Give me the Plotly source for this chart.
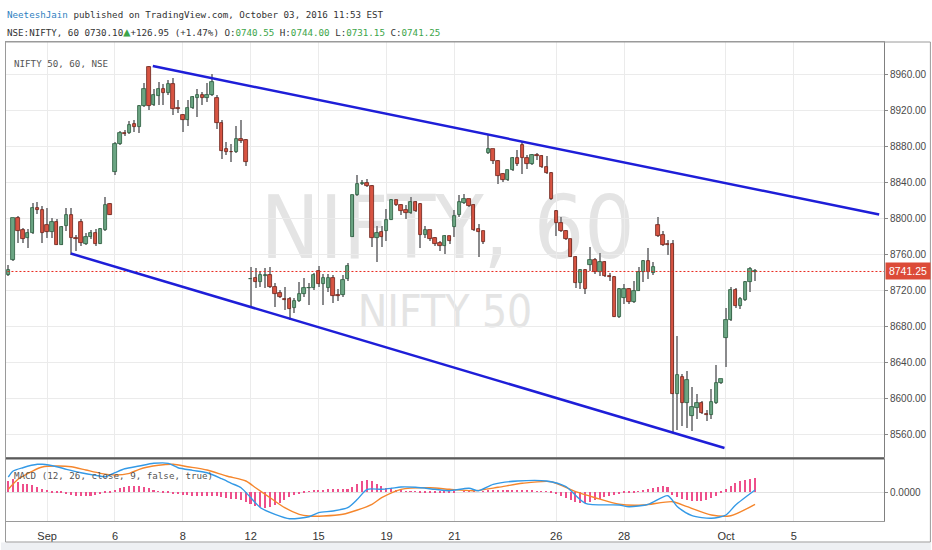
import plotly.graph_objects as go

# ---------------- data ----------------
tick_idx = [8, 22, 36, 50, 64, 78, 92, 113, 127, 148, 162]
tick_text = ["Sep", "6", "8", "12", "15", "19", "21", "26", "28", "Oct", "5"]

opens = [8736.8, 8753.5, 8800.0, 8787.0, 8778.5, 8784.0, 8812.0, 8809.3, 8793.3, 8784.8,
         8795.9, 8771.0, 8791.5, 8803.4, 8778.5, 8796.3, 8772.1, 8779.2, 8784.0, 8772.1,
         8787.0, 8816.4, 8851.0, 8882.6, 8895.0, 8894.5, 8904.2, 8901.2, 8924.7, 8968.2,
         8925.4, 8935.8, 8944.0, 8939.5, 8949.6, 8922.0, 8914.2, 8909.4, 8922.4, 8933.6,
         8937.3, 8933.6, 8936.6, 8933.6, 8906.0, 8877.0, 8874.1, 8873.3, 8888.2, 8887.0,
         8732.5, 8733.8, 8729.4, 8736.5, 8736.8, 8724.5, 8717.0, 8710.6, 8710.8, 8700.3,
         8708.9, 8716.3, 8722.7, 8722.7, 8742.0, 8727.5, 8722.7, 8734.5, 8715.2, 8715.0,
         8732.7, 8780.0, 8825.5, 8838.0, 8839.3, 8835.5, 8778.5, 8784.8, 8786.0, 8798.5,
         8820.0, 8814.4, 8808.9, 8806.0, 8818.1, 8815.6, 8782.2, 8786.7, 8778.5, 8772.6,
         8769.3, 8780.4, 8790.4, 8803.3, 8817.4, 8821.1, 8814.4, 8787.8, 8785.6, 8872.6,
         8876.7, 8863.7, 8849.6, 8842.2, 8853.3, 8867.0, 8881.1, 8867.4, 8860.7, 8870.0,
         8868.9, 8857.0, 8850.4, 8807.8, 8794.8, 8785.9, 8776.7, 8757.8, 8728.1, 8743.0,
         8748.5, 8754.4, 8740.4, 8751.5, 8736.0, 8735.5, 8691.1, 8711.8, 8721.8, 8707.0,
         8720.0, 8740.4, 8752.6, 8739.3, 8793.0, 8781.8, 8771.9, 8771.9, 8605.9, 8624.8,
         8595.2, 8581.1, 8590.4, 8595.9, 8583.3, 8581.8, 8595.9, 8618.1, 8667.0, 8687.4,
         8720.7, 8703.3, 8710.0, 8729.3, 8740.55]
highs = [8748.7, 8800.5, 8802.6, 8789.6, 8788.5, 8817.5, 8818.6, 8813.8, 8812.0, 8800.8,
         8799.0, 8791.5, 8812.0, 8812.0, 8782.2, 8799.0, 8784.0, 8787.0, 8787.8, 8789.6,
         8823.8, 8817.5, 8884.5, 8897.5, 8898.6, 8907.5, 8908.7, 8925.4, 8950.7, 8968.5,
         8944.0, 8951.4, 8949.6, 8953.3, 8955.9, 8931.0, 8916.0, 8931.0, 8935.8, 8944.0,
         8940.3, 8950.7, 8959.6, 8937.3, 8908.7, 8885.2, 8882.6, 8902.3, 8908.7, 8888.2,
         8746.1, 8745.0, 8741.3, 8745.0, 8746.0, 8728.2, 8720.8, 8724.5, 8712.6, 8711.5,
         8730.0, 8733.8, 8728.2, 8739.4, 8747.6, 8738.0, 8738.0, 8737.5, 8722.0, 8737.5,
         8751.0, 8826.3, 8847.8, 8842.2, 8844.0, 8836.7, 8792.2, 8792.2, 8810.7, 8821.8,
         8821.0, 8816.3, 8814.4, 8823.7, 8818.9, 8817.0, 8792.2, 8787.4, 8780.0, 8775.5,
         8782.2, 8781.1, 8808.9, 8825.5, 8827.4, 8821.8, 8815.5, 8794.0, 8786.0, 8894.0,
         8877.4, 8864.4, 8850.4, 8854.0, 8868.1, 8875.5, 8885.5, 8870.0, 8871.1, 8872.6,
         8870.0, 8868.9, 8851.5, 8808.9, 8801.5, 8787.4, 8777.4, 8758.9, 8744.1, 8744.1,
         8768.1, 8756.3, 8761.5, 8753.3, 8739.3, 8736.3, 8722.5, 8727.4, 8723.0, 8731.1,
         8746.7, 8754.1, 8767.4, 8751.5, 8801.5, 8785.9, 8775.6, 8775.6, 8670.0, 8627.4,
         8630.4, 8613.7, 8605.2, 8597.8, 8587.4, 8610.7, 8637.8, 8622.6, 8700.7, 8723.7,
         8723.0, 8712.6, 8730.4, 8745.9, 8744.0]
lows = [8735.7, 8753.0, 8772.9, 8772.9, 8767.3, 8783.0, 8804.5, 8772.9, 8778.5, 8778.5,
        8770.3, 8770.3, 8785.9, 8760.0, 8763.6, 8769.2, 8771.0, 8777.3, 8769.2, 8771.8,
        8786.0, 8803.4, 8848.0, 8881.5, 8891.2, 8893.8, 8895.6, 8894.9, 8923.6, 8919.8,
        8924.7, 8926.2, 8926.2, 8936.6, 8914.2, 8916.4, 8895.6, 8903.0, 8921.7, 8912.4,
        8925.4, 8929.0, 8935.8, 8899.4, 8865.9, 8870.3, 8862.2, 8872.6, 8883.7, 8858.4,
        8702.2, 8722.7, 8724.5, 8722.7, 8722.7, 8701.5, 8711.5, 8698.5, 8687.3, 8694.8,
        8707.8, 8713.4, 8704.0, 8720.8, 8723.8, 8704.0, 8718.0, 8706.0, 8708.0, 8713.0,
        8731.0, 8779.0, 8824.8, 8836.7, 8834.8, 8768.0, 8751.5, 8768.0, 8775.5, 8797.8,
        8813.3, 8804.4, 8799.6, 8805.2, 8807.0, 8767.4, 8778.5, 8775.5, 8770.0, 8764.5,
        8760.7, 8771.9, 8779.3, 8801.5, 8815.5, 8812.6, 8785.6, 8757.8, 8771.9, 8871.9,
        8860.7, 8838.5, 8840.4, 8841.5, 8852.6, 8857.8, 8848.9, 8855.2, 8859.6, 8864.4,
        8856.3, 8848.9, 8820.0, 8781.1, 8784.8, 8775.6, 8757.0, 8723.0, 8721.8, 8716.3,
        8742.2, 8738.5, 8736.7, 8735.5, 8731.1, 8690.4, 8690.0, 8705.2, 8705.2, 8706.3,
        8719.3, 8729.3, 8733.0, 8737.8, 8780.0, 8770.0, 8760.0, 8562.0, 8565.0, 8570.0,
        8568.1, 8564.4, 8577.4, 8583.0, 8575.5, 8577.4, 8594.0, 8617.0, 8635.9, 8686.7,
        8700.7, 8699.6, 8708.9, 8718.1, 8731.15]
closes = [8743.1, 8800.0, 8785.9, 8777.7, 8784.0, 8812.0, 8809.3, 8784.0, 8784.8, 8795.9,
          8771.0, 8790.7, 8803.4, 8778.5, 8777.5, 8772.9, 8779.6, 8784.0, 8772.1, 8787.8,
          8814.9, 8804.1, 8882.6, 8894.9, 8894.0, 8903.8, 8901.6, 8924.7, 8944.0, 8924.7,
          8937.3, 8944.0, 8939.2, 8948.8, 8920.9, 8921.5, 8909.4, 8922.4, 8934.7, 8937.3,
          8933.6, 8937.3, 8951.4, 8905.7, 8875.2, 8874.1, 8874.0, 8888.2, 8886.3, 8862.9,
          8733.0, 8729.4, 8736.8, 8737.0, 8723.8, 8716.3, 8713.4, 8710.2, 8699.2, 8708.9,
          8716.3, 8723.4, 8723.4, 8736.8, 8727.5, 8733.8, 8734.5, 8714.1, 8714.8, 8732.0,
          8747.6, 8825.5, 8837.8, 8839.2, 8835.5, 8778.5, 8784.0, 8780.0, 8798.5, 8820.0,
          8814.4, 8807.8, 8806.0, 8818.1, 8808.1, 8782.2, 8786.7, 8777.4, 8771.9, 8769.6,
          8780.7, 8774.8, 8803.0, 8818.1, 8821.1, 8813.7, 8786.7, 8784.8, 8774.4, 8876.7,
          8863.3, 8847.0, 8842.2, 8853.3, 8867.0, 8860.7, 8867.0, 8860.7, 8870.0, 8869.0,
          8857.0, 8850.4, 8821.1, 8794.8, 8785.9, 8776.7, 8757.8, 8728.1, 8743.0, 8721.8,
          8754.4, 8740.4, 8751.5, 8736.7, 8735.9, 8691.1, 8721.8, 8721.8, 8707.0, 8720.0,
          8740.4, 8752.6, 8740.4, 8746.7, 8781.1, 8770.7, 8770.7, 8605.9, 8626.3, 8595.2,
          8620.7, 8591.1, 8595.9, 8584.1, 8583.0, 8596.7, 8618.1, 8621.8, 8687.4, 8720.7,
          8702.6, 8710.7, 8729.3, 8744.1, 8741.25]

last_close = 8741.25

# drawn trend lines (bar index, price)
upper_line_idx = [29.8, 179.6]
upper_line_px = [8968.9, 8804.4]
lower_line_idx = [12.9, 147.7]
lower_line_px = [8761.1, 8545.6]

# MACD (12, 26, close, 9)
macd_idx = [0, 1, 3, 6, 7, 10, 12, 15, 18, 20, 22, 24, 27, 30, 33, 35, 38, 41, 44, 46,
            48, 50, 52, 55, 58, 62, 64, 67, 70, 72, 74, 77, 79, 81, 84, 88, 91, 95, 97, 100,
            105, 111, 115, 119, 126, 128, 132, 136, 138, 141, 145, 148, 150, 154]
macd_val = [15, 21, 24.3, 27.7, 27.7, 25.3, 22.7, 19.3, 16.7, 15.3, 19.3, 23.3, 26, 28.7, 28.7,
            24.3, 21.7, 19.3, 13.3, 8.7, 4.3, -5.7, -15.7, -22.3, -26.7, -24.7, -20.7, -19, -15.7,
            -7.3, 2.7, 2.7, 3.7, 5, 4.7, 2.7, 1.3, 3.7, 1.3, 7.7, 11, 11, 5.3, -11.3, -13, -14.7,
            -12.3, -3.7, -14.7, -23.7, -26.3, -23, -13, 2]
signal_idx = [0, 2, 5, 7, 10, 13, 16, 19, 22, 25, 27, 31, 34, 37, 41, 45, 49, 51, 54, 57,
              60, 62, 65, 69, 72, 75, 77, 81, 87, 91, 96, 101, 106, 112, 117, 121, 126, 131,
              137, 140, 145, 149, 154]
signal_val = [2.7, 12.7, 21, 25, 26, 25.3, 22, 18.7, 17, 18.7, 22.7, 26.7, 27.7, 25.3, 22, 16,
              11, 4.3, -5.7, -15.7, -22.3, -24, -24, -22.3, -18, -12.3, -5.7, 2.7, 4.3, 2.7,
              1.3, 4.7, 8.7, 10.3, 0.3, -5.7, -12.3, -13, -9.7, -14.7, -23, -23.7, -12.3]
hist_val = [11, 13, 10, 8, 7.5, 6.5, 4.5, 2.7, 1.5,
            -0.3, -1, -1.5, -2.5, -3.3, -4, -4.3, -4.3, -4, -3.5, -2.5, -1.5, -0.5,
            1.5, 3.5, 5, 5.5, 6, 5.5, 5, 3.5, 2,
            0.5, -0.5, -1, -2, -2.5, -3, -3.5, -4, -4, -4.3, -4.3, -4, -4.5, -5.5, -6.5, -7, -7.5,
            -8, -10, -12, -14, -15, -16, -15, -13, -11, -8, -5.5, -3.5, -2,
            -0.5, 0.5, 1, 1.5, 2, 2.5, 2.5, 2.5, 3, 3, 5, 8, 11, 12, 11, 8, 6, 4, 2.5,
            1.5, 1, 0.5, 0.5, 0.3, -0.3, -0.8, -1.2, -1.5, -1.5, -1.3, -1, -0.5, 0, 0.5, 0.5, 0.3, 0,
            0.5, 1, 1.5, 2, 2, 2, 2, 1.8, 1.5, 1.2, 1, 0.8, 0.5, 0.2, -0.5,
            -2, -4, -6, -8, -10, -11, -11, -10, -8.5, -7, -5.5, -4, -3,
            -2, -1.5, -1, -0.5, 0.5, 1.5, 2.5, 3.5, 5, 5.5, 5,
            -3, -5, -7, -8.5, -9.5, -9.5, -9, -8, -6, -4, -1,
            3, 6, 9, 10.5, 12, 13, 13.5]

# ---------------- styling helpers ----------------
W, H = 932, 550
ML, MR, MT, MB = 5, 47, 42, 29
PW, PH = W - ML - MR, H - MT - MB


def px_x(x):
    return (x - ML) / PW


def px_y(y):
    return (H - MB - y) / PH


n = len(closes)
bar_idx = list(range(n))
UP_FILL, UP_LINE = "#6ba583", "#2a5a3c"
DN_FILL, DN_LINE = "#d75442", "#6b2219"
WICK = "#8a8a8c"

is_up = [c >= o for o, c in zip(opens, closes)]
body_h = []
for o, c in zip(opens, closes):
    d = c - o
    if abs(d) < 0.7:
        d = 0.7 if d >= 0 else -0.7
    body_h.append(d)

fig = go.Figure()

# MACD histogram
fig.add_trace(go.Bar(x=bar_idx, y=hist_val, width=0.32, marker=dict(color="#ee4f8b", line=dict(width=0)),
                     xaxis="x2", yaxis="y2", showlegend=False, hoverinfo="skip"))
fig.add_trace(go.Scatter(x=signal_idx, y=signal_val, mode="lines", line=dict(color="#f5862c", width=1.4, shape="spline", smoothing=0.7),
                         xaxis="x2", yaxis="y2", showlegend=False))
fig.add_trace(go.Scatter(x=macd_idx, y=macd_val, mode="lines", line=dict(color="#3399e6", width=1.4, shape="spline", smoothing=0.7),
                         xaxis="x2", yaxis="y2", showlegend=False))

# candle wicks
fig.add_trace(go.Bar(x=bar_idx, base=lows, y=[h - l for h, l in zip(highs, lows)], width=0.22,
                     marker=dict(color=WICK, line=dict(width=0)), showlegend=False, hoverinfo="skip"))
# candle bodies
fig.add_trace(go.Bar(x=bar_idx, base=opens, y=body_h, width=0.7,
                     marker=dict(color=[UP_FILL if u else DN_FILL for u in is_up],
                                 line=dict(color=[UP_LINE if u else DN_LINE for u in is_up], width=0.8)),
                     showlegend=False))

# last price dotted line
fig.add_trace(go.Scatter(x=[-1, 200], y=[last_close, last_close], mode="lines",
                         line=dict(color="#e8281c", width=1, dash="2px,2px"), showlegend=False, hoverinfo="skip"))

# trend lines
fig.add_trace(go.Scatter(x=upper_line_idx, y=upper_line_px, mode="lines", line=dict(color="#1e1ed8", width=2.5), showlegend=False))
fig.add_trace(go.Scatter(x=lower_line_idx, y=lower_line_px, mode="lines", line=dict(color="#1e1ed8", width=2.5), showlegend=False))

xr = [(ML - 7.3) / 4.86, (W - MR - 7.3) / 4.86]
grid = "#ebebeb"
frame = "#9a9a9a"
axis_font = dict(family="Liberation Sans, Arial, sans-serif", size=10, color="#4a4a4a")

fig.update_layout(
    width=W, height=H, margin=dict(l=ML, r=MR, t=MT, b=MB),
    paper_bgcolor="white", plot_bgcolor="white", barmode="overlay", bargap=0,
    showlegend=False,
    xaxis=dict(domain=[0, 1], anchor="y", range=xr, tickvals=tick_idx, showticklabels=False,
               showgrid=True, gridcolor=grid, zeroline=False, showline=True, linecolor=frame, mirror=True,
               ticks=""),
    yaxis=dict(domain=[0.1336, 1], anchor="x", side="right", range=[8535.6, 8995.6], dtick=40, tick0=8560,
               tickformat=".2f", ticks="outside", ticklen=3, tickcolor="#888", showgrid=True, gridcolor=grid,
               zeroline=False, showline=True, linecolor="#808080", mirror=True, tickfont=axis_font),
    xaxis2=dict(domain=[0, 1], anchor="y2", range=xr, tickvals=tick_idx, ticktext=tick_text,
                showgrid=True, gridcolor=grid, zeroline=False, showline=True, linecolor=frame, mirror=True,
                ticks="outside", ticklen=5, tickcolor="rgba(0,0,0,0)", tickfont=dict(family="Liberation Sans, Arial, sans-serif", size=11, color="#333")),
    yaxis2=dict(domain=[0, 0.1294], anchor="x2", side="right", range=[-29, 33], tickvals=[0], ticktext=["0.0000"],
                ticks="outside", ticklen=3, tickcolor="#888", showgrid=True, gridcolor="#e2e2e2", zeroline=False,
                showline=True, linecolor="#808080", mirror=True, tickfont=axis_font),
)

shapes = []
# watermark texts (behind candles)
shapes.append(dict(type="rect", xref="paper", yref="paper", x0=px_x(230), x1=px_x(665), y0=px_y(270), y1=px_y(172),
                   line=dict(width=0), fillcolor="rgba(0,0,0,0)", layer="between",
                   label=dict(text="NIFTY, 60", textposition="middle center",
                              font=dict(family="DejaVu Sans Condensed, Liberation Sans Narrow, Liberation Sans", size=88, color="#e4e4e4"))))
shapes.append(dict(type="rect", xref="paper", yref="paper", x0=px_x(340), x1=px_x(550), y0=px_y(330), y1=px_y(286),
                   line=dict(width=0), fillcolor="rgba(0,0,0,0)", layer="between",
                   label=dict(text="NIFTY 50", textposition="middle center",
                              font=dict(family="DejaVu Sans Condensed, Liberation Sans Narrow, Liberation Sans", size=44, color="#e4e4e4"))))
# panel separator
shapes.append(dict(type="line", xref="paper", yref="paper", x0=0, x1=1, y0=px_y(458.5), y1=px_y(458.5),
                   line=dict(color="#5a5a5a", width=2)))
# outer frame pieces
shapes.append(dict(type="line", xref="paper", yref="paper", x0=px_x(4.5), x1=px_x(931.5), y0=px_y(42), y1=px_y(42),
                   line=dict(color=frame, width=1)))
shapes.append(dict(type="line", xref="paper", yref="paper", x0=px_x(4.5), x1=px_x(4.5), y0=px_y(42), y1=px_y(542),
                   line=dict(color=frame, width=1)))
shapes.append(dict(type="line", xref="paper", yref="paper", x0=px_x(931.5), x1=px_x(931.5), y0=px_y(42), y1=px_y(542),
                   line=dict(color=frame, width=1)))
shapes.append(dict(type="rect", xref="paper", yref="paper", x0=px_x(0), x1=px_x(932), y0=px_y(550), y1=px_y(542.5),
                   line=dict(width=0), fillcolor="#eef0f3"))
shapes.append(dict(type="line", xref="paper", yref="paper", x0=px_x(4.5), x1=px_x(931.5), y0=px_y(542), y1=px_y(542),
                   line=dict(color=frame, width=1)))
fig.update_layout(shapes=shapes)

mono = "DejaVu Sans Mono, Liberation Mono, monospace"
green = "#3ca54a"
annotations = [
    dict(x=px_x(4), y=px_y(14), xref="paper", yref="paper", xanchor="left", yanchor="middle", showarrow=False,
         text="<span style='color:#2f7fc1'>NeeteshJain</span> published on TradingView.com, October 03, 2016 11:53 EST",
         font=dict(family=mono, size=9.2, color="#333")),
    dict(x=px_x(4), y=px_y(32), xref="paper", yref="paper", xanchor="left", yanchor="middle", showarrow=False,
         text=("NSE:NIFTY, 60 0730.10<span style='color:%s;font-size:12px'>▲</span>+126.95 (+1.47%%) "
               "O:<span style='color:%s'>0740.55</span> H:<span style='color:%s'>0744.00</span> "
               "L:<span style='color:%s'>0731.15</span> C:<span style='color:%s'>0741.25</span>") % (green, green, green, green, green),
         font=dict(family=mono, size=9.2, color="#333")),
    dict(x=px_x(11), y=px_y(64), xref="paper", yref="paper", xanchor="left", yanchor="middle", showarrow=False,
         text="NIFTY 50, 60, NSE", font=dict(family=mono, size=9.2, color="#555")),
    dict(x=px_x(11), y=px_y(475), xref="paper", yref="paper", xanchor="left", yanchor="middle", showarrow=False,
         text="MACD (12, 26, close, 9, false, true)", font=dict(family=mono, size=9.2, color="#555")),
    dict(x=1, y=last_close, xref="paper", yref="y", xanchor="left", yanchor="middle", xshift=1, showarrow=False,
         text="8741.25", bgcolor="#dc4b38", borderpad=2, width=40,
         font=dict(family="Liberation Sans, Arial, sans-serif", size=10.5, color="white")),
]
fig.update_layout(annotations=annotations)

fig.write_html("out.html", config={"displayModeBar": False},
               post_script="document.body.style.margin='0';document.body.style.overflow='hidden';")
